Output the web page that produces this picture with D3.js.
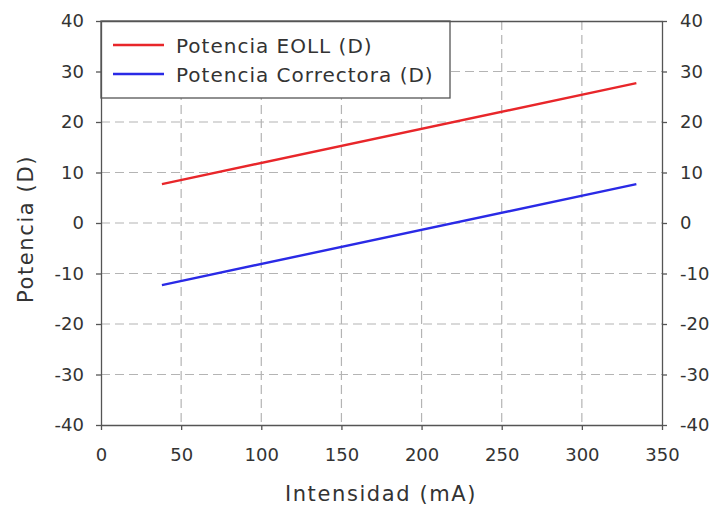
<!DOCTYPE html>
<html>
<head>
<meta charset="utf-8">
<script src="https://cdn.jsdelivr.net/npm/d3@7"></script>
<style>
  body { margin: 0; background: #fff; }
  svg { font-family: "DejaVu Sans", sans-serif; }
  .grid line { stroke: #b4b4b4; stroke-dasharray: 9, 5; stroke-width: 1.2; }
  .axis path, .axis line { stroke: #555; stroke-width: 1.3; }
  .axis text { fill: #333; font-size: 18px; }
</style>
</head>
<body>
<svg id="chart" width="714" height="513"></svg>
<script>
'use strict';

// data
var xTicks = [0, 50, 100, 150, 200, 250, 300, 350],
    yTicks = [-40, -30, -20, -10, 0, 10, 20, 30, 40],
    seriesNames = ['Potencia EOLL (D)', 'Potencia Correctora (D)'],
    seriesColors = ['#e8262a', '#2a2ae6'],
    intensity = [38, 334],
    eollValues = [7.7, 27.7],
    correctoraValues = [-12.3, 7.7];

(function () {
  var series = [eollValues, correctoraValues].map(function (vals, i) {
    return {
      name: seriesNames[i],
      color: seriesColors[i],
      points: intensity.map(function (x, j) { return { x: x, y: vals[j] }; })
    };
  });

  var svg = d3.select('#chart'),
      _left = 101, _right = 662, _top = 21, _bottom = 425,
      plain = function (d) { return String(d); };

  var x = d3.scaleLinear().domain([0, 350]).range([_left, _right]),
      y = d3.scaleLinear().domain([-40, 40]).range([_bottom, _top]);

  // grid
  var grid = svg.append('g').attr('class', 'grid');
  grid.selectAll('line.v')
      .data(xTicks.slice(1, -1))
      .enter().append('line')
      .attr('x1', x).attr('x2', x)
      .attr('y1', _top).attr('y2', _bottom);
  grid.selectAll('line.h')
      .data(yTicks.slice(1, -1))
      .enter().append('line')
      .attr('x1', _left).attr('x2', _right)
      .attr('y1', y).attr('y2', y);

  // lines
  var line = d3.line()
      .x(function (d) { return x(d.x); })
      .y(function (d) { return y(d.y); });

  svg.selectAll('path.series')
      .data(series)
      .enter().append('path')
      .attr('class', 'series')
      .attr('fill', 'none')
      .attr('stroke', function (d) { return d.color; })
      .attr('stroke-width', 2.4)
      .attr('d', function (d) { return line(d.points); });

  // legend
  var legend = svg.append('g');
  legend.append('rect')
      .attr('x', _left).attr('y', _top)
      .attr('width', 349).attr('height', 77)
      .attr('fill', '#fff')
      .attr('stroke', '#555')
      .attr('stroke-width', 1.3);
  series.forEach(function (s, i) {
    var ly = 45 + i * 29;
    legend.append('line')
        .attr('x1', 113).attr('x2', 164)
        .attr('y1', ly).attr('y2', ly)
        .attr('stroke', s.color)
        .attr('stroke-width', 2.4);
    legend.append('text')
        .attr('x', 176).attr('y', ly + 8)
        .attr('font-size', 20)
        .attr('letter-spacing', 1)
        .attr('fill', '#333')
        .text(s.name);
  });

  // axes
  var axisLeft = d3.axisLeft(y).tickValues(yTicks).tickFormat(plain)
        .tickSizeInner(5).tickSizeOuter(0).tickPadding(12),
      axisRight = d3.axisRight(y).tickValues(yTicks).tickFormat(plain)
        .tickSizeInner(5).tickSizeOuter(0).tickPadding(13),
      axisBottom = d3.axisBottom(x).tickValues(xTicks).tickFormat(plain)
        .tickSizeInner(5).tickSizeOuter(0).tickPadding(18),
      axisTop = d3.axisTop(x).tickValues([]).tickSizeOuter(0);

  svg.append('g').attr('class', 'axis').attr('transform', 'translate(' + _left + ',0)').call(axisLeft);
  svg.append('g').attr('class', 'axis').attr('transform', 'translate(' + _right + ',0)').call(axisRight);
  svg.append('g').attr('class', 'axis').attr('transform', 'translate(0,' + _bottom + ')').call(axisBottom);
  svg.append('g').attr('class', 'axis').attr('transform', 'translate(0,' + _top + ')').call(axisTop);

  svg.selectAll('.axis').attr('font-family', null).attr('font-size', null);

  // titles
  svg.append('text')
      .attr('x', 381).attr('y', 501)
      .attr('text-anchor', 'middle')
      .attr('font-size', 21)
      .attr('letter-spacing', 1.6)
      .attr('fill', '#333')
      .text('Intensidad (mA)');
  svg.append('text')
      .attr('transform', 'translate(33,229) rotate(-90)')
      .attr('text-anchor', 'middle')
      .attr('font-size', 21)
      .attr('letter-spacing', 1.6)
      .attr('fill', '#333')
      .text('Potencia (D)');
})();
</script>
</body>
</html>
